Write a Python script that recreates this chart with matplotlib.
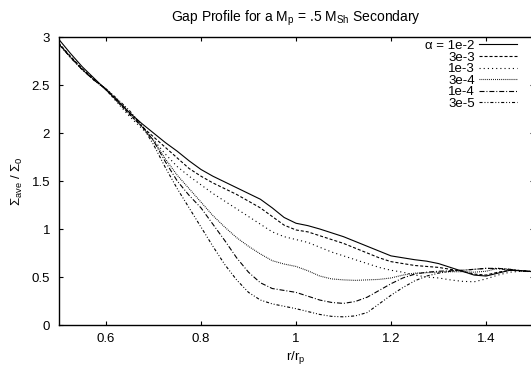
import matplotlib
matplotlib.use("Agg")
import matplotlib.pyplot as plt
from matplotlib.ticker import FormatStrFormatter

plt.rcParams['font.family'] = ['Liberation Sans', 'DejaVu Sans']
plt.rcParams['mathtext.fontset'] = 'custom'
plt.rcParams['mathtext.rm'] = 'Liberation Sans'
plt.rcParams['mathtext.it'] = 'Liberation Sans'
plt.rcParams['mathtext.bf'] = 'Liberation Sans:bold'
plt.rcParams['lines.scale_dashes'] = False

# ---- data ----
r = [0.500, 0.525, 0.550, 0.575, 0.600, 0.625, 0.650, 0.675, 0.700, 0.725,
     0.750, 0.775, 0.800, 0.825, 0.850, 0.875, 0.900, 0.925, 0.950, 0.975,
     1.000, 1.025, 1.050, 1.075, 1.100, 1.125, 1.150, 1.175, 1.200, 1.225,
     1.250, 1.275, 1.300, 1.325, 1.350, 1.375, 1.400, 1.425, 1.450, 1.475,
     1.500]

s_1e2 = [2.98, 2.83, 2.69, 2.57, 2.45, 2.33, 2.21, 2.10, 2.00, 1.90,
         1.81, 1.71, 1.62, 1.55, 1.49, 1.43, 1.37, 1.31, 1.22, 1.12,
         1.06, 1.035, 1.00, 0.96, 0.92, 0.87, 0.82, 0.77, 0.72, 0.70,
         0.68, 0.665, 0.64, 0.60, 0.56, 0.52, 0.51, 0.54, 0.57, 0.565,
         0.555]
s_3e3 = [2.94, 2.80, 2.67, 2.56, 2.45, 2.32, 2.19, 2.07, 1.96, 1.85,
         1.74, 1.63, 1.55, 1.48, 1.42, 1.36, 1.29, 1.22, 1.13, 1.04,
         0.99, 0.97, 0.93, 0.89, 0.85, 0.80, 0.75, 0.70, 0.66, 0.64,
         0.62, 0.61, 0.60, 0.58, 0.56, 0.53, 0.52, 0.55, 0.57, 0.565,
         0.555]
s_1e3 = [2.93, 2.79, 2.66, 2.55, 2.45, 2.31, 2.17, 2.05, 1.93, 1.78,
         1.65, 1.55, 1.46, 1.37, 1.29, 1.21, 1.13, 1.05, 0.97, 0.92,
         0.89, 0.86, 0.81, 0.76, 0.72, 0.68, 0.64, 0.60, 0.57, 0.55,
         0.52, 0.50, 0.49, 0.47, 0.455, 0.45, 0.48, 0.52, 0.55, 0.56,
         0.555]
s_3e4 = [2.93, 2.79, 2.66, 2.55, 2.46, 2.33, 2.20, 2.07, 1.92, 1.73,
         1.56, 1.42, 1.28, 1.14, 1.02, 0.91, 0.82, 0.74, 0.67, 0.635,
         0.61, 0.565, 0.51, 0.48, 0.47, 0.465, 0.47, 0.475, 0.49, 0.52,
         0.54, 0.545, 0.55, 0.555, 0.555, 0.55, 0.56, 0.59, 0.58, 0.565,
         0.555]
s_1e4 = [2.93, 2.79, 2.66, 2.55, 2.46, 2.34, 2.21, 2.08, 1.92, 1.70,
         1.50, 1.35, 1.22, 1.05, 0.88, 0.70, 0.55, 0.44, 0.38, 0.36,
         0.34, 0.30, 0.26, 0.235, 0.225, 0.245, 0.29, 0.36, 0.43, 0.49,
         0.53, 0.55, 0.56, 0.565, 0.57, 0.58, 0.59, 0.59, 0.58, 0.565,
         0.555]
s_3e5 = [2.93, 2.79, 2.66, 2.55, 2.46, 2.35, 2.23, 2.08, 1.88, 1.64,
         1.42, 1.22, 1.02, 0.82, 0.63, 0.47, 0.34, 0.26, 0.22, 0.195,
         0.17, 0.14, 0.11, 0.09, 0.085, 0.095, 0.13, 0.22, 0.31, 0.39,
         0.46, 0.51, 0.54, 0.56, 0.57, 0.58, 0.59, 0.585, 0.575, 0.565,
         0.555]

labels = ['α = 1e-2', '3e-3', '1e-3', '3e-4', '1e-4', '3e-5']
series = [s_1e2, s_3e3, s_1e3, s_3e4, s_1e4, s_3e5]
dash_styles = ['-', (0, (2.2, 1.4)), (0, (0.8, 2.2)), (0, (0.6, 0.8)),
               (0, (3.6, 1.4, 0.7, 1.4)), (0, (2.2, 1.4, 0.7, 1.4, 0.7, 1.4))]

xticks = [0.6, 0.8, 1.0, 1.2, 1.4]
yticks = [0, 0.5, 1, 1.5, 2, 2.5, 3]

W, H = 531, 369
fig = plt.figure(figsize=(W / 100, H / 100), dpi=100)
ax = fig.add_axes([58.5 / W, (H - 325) / H, (533.5 - 58.5) / W, (325 - 37) / H])

for y, lab, ls in zip(series, labels, dash_styles):
    ax.plot(r, y, color='black', linestyle=ls, linewidth=0.8, label=lab)

ax.set_xlim(0.5, 1.5)
ax.set_ylim(0, 3)
ax.set_xticks(xticks)
ax.set_yticks(yticks)
ax.xaxis.set_major_formatter(FormatStrFormatter('%g'))
ax.yaxis.set_major_formatter(FormatStrFormatter('%g'))
ax.tick_params(direction='in', length=3.0, width=0.8, top=True, right=True,
               labelsize=9.5, pad=6)
for sp in ax.spines.values():
    sp.set_linewidth(1.0)

ax.set_xlabel('r/r$_\\mathrm{p}$', fontsize=9.5, labelpad=3)
ax.set_ylabel('$\\Sigma_\\mathrm{ave}$ / $\\Sigma_0$', fontsize=9.5, labelpad=5)
ax.set_title('Gap Profile for a M$_\\mathrm{p}$ = .5 M$_\\mathrm{Sh}$ Secondary',
             fontsize=10, pad=11)

leg = ax.legend(loc='upper right', bbox_to_anchor=(0.965, 0.99), frameon=False,
                fontsize=9.5, markerfirst=False, handlelength=2.85,
                handletextpad=0.35, labelspacing=-0.05, borderpad=0,
                borderaxespad=0)
for t in leg.get_texts():
    t.set_ha('right')

fig.savefig('out.png', dpi=100)
